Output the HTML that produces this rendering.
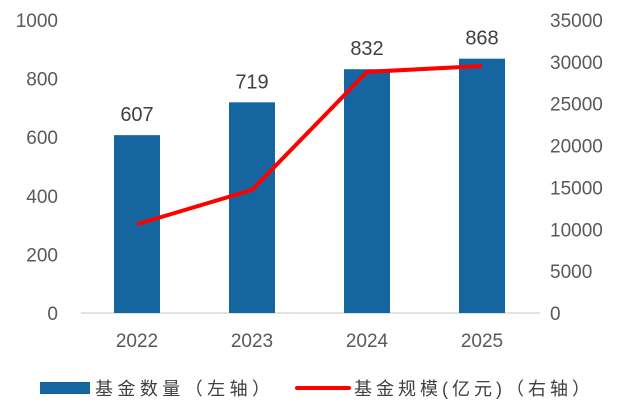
<!DOCTYPE html>
<html><head><meta charset="utf-8"><style>
body{margin:0;background:#fff;width:630px;height:408px;overflow:hidden}
text{font-family:"Liberation Sans","Noto Sans CJK SC",sans-serif}
</style></head><body>
<svg id="c" width="630" height="408"></svg>
<script>
const categories=["2022","2023","2024","2025"];
const fundCount=[607,719,832,868];
const fundScale=[10600,14700,28800,29500];
const leftTicks=[0,200,400,600,800,1000];
const rightTicks=[0,5000,10000,15000,20000,25000,30000,35000];
const svg=document.getElementById('c');
const NS='http://www.w3.org/2000/svg';
const y0=313,yTop=20;
const yL=v=>y0-(v/1000)*(y0-yTop);
const yR=v=>y0-(v/35000)*(y0-yTop);
const xC=i=>137+i*115;
function mk(t,a,txt){const e=document.createElementNS(NS,t);for(const k in a)e.setAttribute(k,a[k]);if(txt!==undefined)e.textContent=txt;svg.appendChild(e);return e;}
leftTicks.forEach(v=>{const e=mk('text',{x:58,y:yL(v)+7,'text-anchor':'end','font-size':19,fill:'#595959'},v);

});
rightTicks.forEach(v=>{const e=mk('text',{x:550,y:yR(v)+7,'text-anchor':'start','font-size':19,fill:'#595959'},v);

});
const ax=mk('line',{x1:81,x2:540,y1:y0,y2:y0,stroke:'#d9d9d9','stroke-width':1.5});


categories.forEach((c,i)=>{
const b=mk('rect',{x:xC(i)-23,y:yL(fundCount[i]),width:46,height:y0-yL(fundCount[i]),fill:'#1566a0'});


const l=mk('text',{x:xC(i),y:yL(fundCount[i])-14,'text-anchor':'middle','font-size':20,fill:'#404040'},fundCount[i]);


const t=mk('text',{x:xC(i),y:347,'text-anchor':'middle','font-size':19,fill:'#595959'},c);


});
const pl=mk('polyline',{points:fundScale.map((v,i)=>xC(i)+','+yR(v)).join(' '),fill:'none',stroke:'#ff0000','stroke-width':4,'stroke-linejoin':'round'});


const lr=mk('rect',{x:40,y:382,width:50,height:12,fill:'#1566a0'});


const lt1=mk('text',{x:95,y:395,'font-size':18,fill:'#404040','font-family':'"Noto Serif CJK SC",serif',textLength:175,lengthAdjust:'spacing'},'基金数量（左轴）');


const ll=mk('line',{x1:297,x2:349,y1:388,y2:388,stroke:'#ff0000','stroke-width':4,'stroke-linecap':'round'});


const lt2=mk('text',{x:354,y:395,'font-size':18,fill:'#404040','font-family':'"Noto Serif CJK SC",serif',textLength:236,lengthAdjust:'spacing'},'基金规模(亿元)（右轴）');


</script>
</body></html>
